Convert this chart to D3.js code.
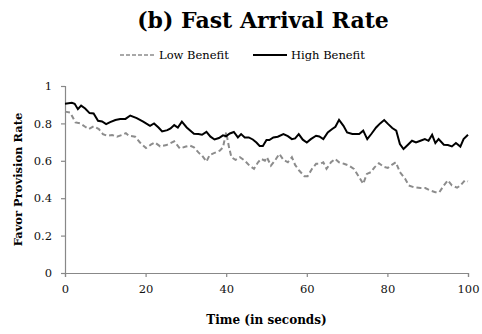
<!DOCTYPE html>
<html>
<head>
<meta charset="utf-8">
<script src="https://cdn.jsdelivr.net/npm/d3@7"></script>
<style>
  body { margin: 0; background: #fff; }
  text { font-family: "DejaVu Serif", "Liberation Serif", serif; }
</style>
</head>
<body>
<div id="chart-area"></div>
<script>
// data
const lowTime = [0,1.3,2.6,3.8,5,5.9,7.1,8.4,9.4,10.4,11.7,12.9,14.1,15.1,15.8,17.4,18.6,20.1,21.3,22.3,23.6,25.2,27.1,28.5,30,31,32,33.1,34,35.1,35.9,37.1,38.4,39.2,40,40.7,41.3,42.3,43.4,44.6,45.8,46.9,47.9,48.7,49.6,50.1,51.1,52.2,53.2,54.2,55.3,56.3,57.1,58.1,59.4,60.2,61.3,62.3,63.4,64.1,64.9,66,67,68,69.2,70.5,71.7,73,74,74.9,75.9,76.8,77.9,79,80.1,81.2,82.1,83.1,84.4,85.3,86.5,88.2,89.4,90.6,91.9,92.9,94,95,96,97.3,98.1,99.2,100];
const lowValues = [0.863,0.858,0.805,0.8,0.782,0.77,0.784,0.77,0.743,0.734,0.738,0.729,0.738,0.748,0.734,0.729,0.698,0.668,0.686,0.698,0.677,0.684,0.704,0.666,0.676,0.681,0.672,0.645,0.628,0.596,0.631,0.642,0.654,0.672,0.752,0.672,0.619,0.605,0.619,0.601,0.574,0.557,0.592,0.61,0.601,0.619,0.574,0.605,0.637,0.605,0.592,0.619,0.578,0.548,0.518,0.518,0.557,0.584,0.584,0.592,0.557,0.592,0.61,0.592,0.584,0.574,0.557,0.512,0.477,0.53,0.539,0.565,0.587,0.569,0.562,0.58,0.592,0.539,0.504,0.468,0.459,0.454,0.454,0.441,0.432,0.432,0.468,0.495,0.468,0.456,0.468,0.495,0.49];

const highTime = [0,1.7,2.4,3.2,4,5,6.1,7.1,8.2,9.2,10.2,11.2,12.5,13.7,15,16.2,17.8,19.4,21.1,22.1,23.2,24.1,25.4,26.2,27.1,28,29,30.2,32,33.1,34,35.1,36.1,37.1,38.2,39.2,40,40.9,41.9,42.9,43.7,44.6,45.6,46.6,47.5,48.3,49.1,50,50.7,51.7,52.8,54.2,55.3,56.3,57.1,58,59,60,61,62.3,63.1,64.1,65.2,66.3,67.1,68,69.1,70,71.3,73,74,75,76.1,77.2,78.2,79.2,80.2,81.2,82.2,83.1,84,85.1,86.1,87.1,88.2,89.3,90.2,91.1,91.9,92.7,94,95,96,97,98.1,98.9,100];
const highValues = [0.905,0.91,0.905,0.876,0.895,0.88,0.855,0.853,0.814,0.81,0.796,0.807,0.818,0.823,0.824,0.842,0.828,0.81,0.787,0.8,0.778,0.757,0.764,0.773,0.791,0.778,0.809,0.778,0.745,0.743,0.739,0.755,0.729,0.714,0.722,0.736,0.732,0.746,0.754,0.725,0.743,0.725,0.725,0.714,0.698,0.679,0.679,0.711,0.711,0.725,0.729,0.743,0.732,0.716,0.72,0.743,0.713,0.698,0.716,0.734,0.73,0.716,0.752,0.77,0.782,0.819,0.787,0.752,0.743,0.743,0.761,0.716,0.746,0.778,0.8,0.818,0.796,0.775,0.761,0.69,0.663,0.686,0.707,0.698,0.707,0.716,0.707,0.739,0.695,0.716,0.686,0.684,0.677,0.695,0.676,0.716,0.739];

const xTicks = [0, 20, 40, 60, 80, 100];
const yTicks = [0, 0.2, 0.4, 0.6, 0.8, 1];

const margin = { top: 86, right: 14, bottom: 61, left: 65 };
const width = 482 - margin.left - margin.right;
const height = 334 - margin.top - margin.bottom;

const svg = d3.select('#chart-area')
  .append('svg')
  .attr('width', 482)
  .attr('height', 334);

const g = svg.append('g')
  .attr('transform', `translate(${margin.left}, ${margin.top})`);

const x = d3.scaleLinear().domain([0, 100]).range([0, width]);
const y = d3.scaleLinear().domain([0, 1]).range([height, 0]);

// axes
const xAxis = g.append('g')
  .attr('transform', `translate(0, ${height})`)
  .call(d3.axisBottom(x).tickValues(xTicks).tickSize(4).tickPadding(8).tickFormat(d3.format('d')));

const yAxis = g.append('g')
  .call(d3.axisLeft(y).tickValues(yTicks).tickSize(4).tickPadding(9).tickFormat(d => d === 0 || d === 1 ? d : d3.format('.1f')(d)));

[xAxis, yAxis].forEach(a => {
  a.select('.domain').attr('stroke', '#888').attr('stroke-width', 1.2);
  a.selectAll('.tick line').attr('stroke', '#888').attr('stroke-width', 1.2);
  a.selectAll('.tick text')
    .attr('font-family', '"DejaVu Serif", serif')
    .attr('font-size', '11.5px')
    .attr('fill', '#111');
});

// lines
const line = d3.line()
  .x(d => x(d[0]))
  .y(d => y(d[1]));

g.append('path')
  .datum(lowTime.map((t, i) => [t, lowValues[i]]))
  .attr('fill', 'none')
  .attr('stroke', '#8c8c8c')
  .attr('stroke-width', 2)
  .attr('stroke-dasharray', '5,3')
  .attr('d', line);

g.append('path')
  .datum(highTime.map((t, i) => [t, highValues[i]]))
  .attr('fill', 'none')
  .attr('stroke', '#000')
  .attr('stroke-width', 2)
  .attr('d', line);

// title
svg.append('text')
  .attr('x', 263)
  .attr('y', 28)
  .attr('text-anchor', 'middle')
  .attr('font-size', '22px')
  .attr('font-weight', 'bold')
  .text('(b) Fast Arrival Rate');

// legend
const legend = svg.append('g').attr('transform', 'translate(120, 55)');
legend.append('line')
  .attr('x1', 0).attr('x2', 35).attr('y1', 0).attr('y2', 0)
  .attr('stroke', '#8c8c8c').attr('stroke-width', 1.5).attr('stroke-dasharray', '4,2');
legend.append('text')
  .attr('x', 39).attr('y', 4)
  .attr('font-size', '11.5px')
  .text('Low Benefit');
legend.append('line')
  .attr('x1', 133).attr('x2', 167).attr('y1', 0).attr('y2', 0)
  .attr('stroke', '#000').attr('stroke-width', 2);
legend.append('text')
  .attr('x', 171).attr('y', 4)
  .attr('font-size', '11.5px')
  .text('High Benefit');

// axis labels
svg.append('text')
  .attr('x', margin.left + width / 2)
  .attr('y', 324)
  .attr('text-anchor', 'middle')
  .attr('font-size', '12px')
  .attr('font-weight', 'bold')
  .text('Time (in seconds)');

svg.append('text')
  .attr('transform', `translate(22, ${margin.top + height / 2}) rotate(-90)`)
  .attr('text-anchor', 'middle')
  .attr('font-size', '11.5px')
  .attr('font-weight', 'bold')
  .text('Favor Provision Rate');
</script>
</body>
</html>
